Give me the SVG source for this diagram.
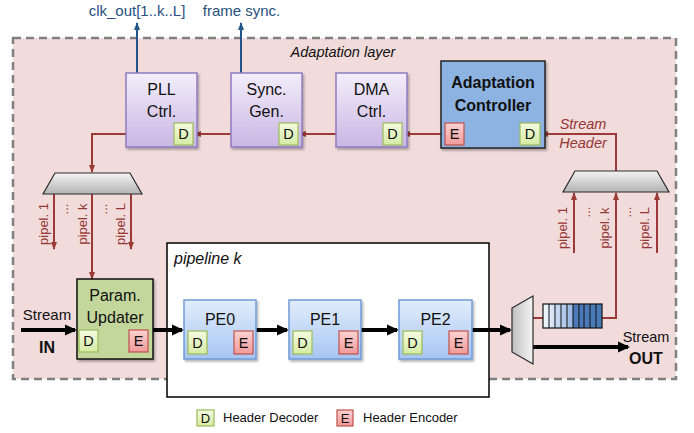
<svg xmlns="http://www.w3.org/2000/svg" width="694" height="433" viewBox="0 0 694 433">
<style>
text{font-family:"Liberation Sans",Arial,sans-serif;}
.lbl{font-size:16px;fill:#111;text-anchor:middle;}
.de{font-size:14.5px;fill:#111;text-anchor:middle;}
.red{stroke:#9b3a36;stroke-width:2;fill:none;}
.rtxt{font-size:13px;fill:#953735;text-anchor:middle;}
.blk{stroke:#000;stroke-width:4;fill:none;}
.blu{stroke:#24548a;stroke-width:2;fill:none;}
.btxt{font-size:15px;fill:#27507f;text-anchor:middle;}
.purple{fill:url(#gPurple);stroke:#8f7cc0;stroke-width:1.5;}
.pe{fill:url(#gBlue);stroke:#6f9bd6;stroke-width:1.5;}
.dbox{fill:url(#gGreen);stroke:#9bbb59;stroke-width:1.2;}
.ebox{fill:url(#gRed);stroke:#c0504d;stroke-width:1.2;}
.trap{fill:url(#gGray);stroke:#2a2a2a;stroke-width:1.2;}
</style>
<defs>
<linearGradient id="gPurple" x1="0" y1="0" x2="0" y2="1"><stop offset="0" stop-color="#f3eefa"/><stop offset="1" stop-color="#c9b6e4"/></linearGradient>
<linearGradient id="gBlue" x1="0" y1="0" x2="0" y2="1"><stop offset="0" stop-color="#e2edfc"/><stop offset="1" stop-color="#a6c5f1"/></linearGradient>
<linearGradient id="gGreen" x1="0" y1="0" x2="0" y2="1"><stop offset="0" stop-color="#f4fbe0"/><stop offset="1" stop-color="#d5eba3"/></linearGradient>
<linearGradient id="gRed" x1="0" y1="0" x2="0" y2="1"><stop offset="0" stop-color="#fbd3d2"/><stop offset="1" stop-color="#f09a98"/></linearGradient>
<linearGradient id="gGray" x1="0" y1="0" x2="0" y2="1"><stop offset="0" stop-color="#f4f4f4"/><stop offset="1" stop-color="#b3b3b3"/></linearGradient>
<linearGradient id="gGrayH" x1="0" y1="0" x2="1" y2="0"><stop offset="0" stop-color="#c0c0c0"/><stop offset="1" stop-color="#f4f4f4"/></linearGradient>
<linearGradient id="gCell" x1="0" y1="0" x2="1" y2="0"><stop offset="0" stop-color="#f4f8fe"/><stop offset="1" stop-color="#94b6e3"/></linearGradient>
<filter id="sh" x="-10%" y="-10%" width="130%" height="130%"><feDropShadow dx="1.5" dy="2" stdDeviation="1.2" flood-color="#000" flood-opacity="0.3"/></filter>
<marker id="aBlk" markerUnits="userSpaceOnUse" markerWidth="12" markerHeight="12" viewBox="0 0 12 12" refX="10" refY="6" orient="auto"><path d="M0,0.5 L12,6 L0,11.5 z" fill="#000"/></marker>
<marker id="aRed" markerUnits="userSpaceOnUse" markerWidth="8" markerHeight="8" viewBox="0 0 8 8" refX="7" refY="4" orient="auto"><path d="M0,1 L8,4 L0,7 z" fill="#9b3a36"/></marker>
<marker id="aBlu" markerUnits="userSpaceOnUse" markerWidth="8" markerHeight="8" viewBox="0 0 8 8" refX="7" refY="4" orient="auto"><path d="M0,1 L8,4 L0,7 z" fill="#24548a"/></marker>
</defs>

<g id="adaptation-layer">
<rect x="13" y="38" width="663" height="341" fill="#f1dbdb" stroke="#808080" stroke-width="2.5" stroke-dasharray="8,5"/>
<text x="343" y="57" style="font-size:14.5px;font-style:italic;fill:#111;text-anchor:middle">Adaptation layer</text>
</g>

<g id="pipeline-k">
<rect x="167" y="243" width="322" height="154" fill="#fff" stroke="#000" stroke-width="1.5"/>
<text x="174" y="264" style="font-size:16px;font-style:italic;fill:#111">pipeline k</text>
</g>

<g id="connectors">
<line class="blu" x1="137" y1="73" x2="137" y2="23" marker-end="url(#aBlu)"/>
<line class="blu" x1="241" y1="73" x2="241" y2="23" marker-end="url(#aBlu)"/>
<polyline class="red" points="616,171 616,134 541,134" marker-end="url(#aRed)"/>
<line class="red" x1="520" y1="134" x2="465" y2="134" marker-end="url(#aRed)"/>
<line class="red" x1="445" y1="134" x2="403" y2="134" marker-end="url(#aRed)"/>
<line class="red" x1="383" y1="134" x2="299" y2="134" marker-end="url(#aRed)"/>
<line class="red" x1="279" y1="134" x2="194" y2="134" marker-end="url(#aRed)"/>
<polyline class="red" points="174,134 92,134 92,172" marker-end="url(#aRed)"/>
<line class="red" x1="54" y1="194" x2="54" y2="249" marker-end="url(#aRed)"/>
<line class="red" x1="92" y1="194" x2="92" y2="279" marker-end="url(#aRed)"/>
<line class="red" x1="131" y1="194" x2="131" y2="249" marker-end="url(#aRed)"/>
<line class="red" x1="574" y1="253" x2="574" y2="193" marker-end="url(#aRed)"/>
<polyline class="red" points="602,318 616,318 616,193" marker-end="url(#aRed)"/>
<line class="red" x1="657" y1="253" x2="657" y2="193" marker-end="url(#aRed)"/>
<line class="red" x1="533" y1="318" x2="543" y2="318"/>
<line class="blk" x1="21" y1="330" x2="75" y2="330" marker-end="url(#aBlk)"/>
<line class="blk" x1="153" y1="330" x2="182" y2="330" marker-end="url(#aBlk)"/>
<line class="blk" x1="256" y1="330" x2="287" y2="330" marker-end="url(#aBlk)"/>
<line class="blk" x1="361" y1="330" x2="397" y2="330" marker-end="url(#aBlk)"/>
<line class="blk" x1="472" y1="330" x2="510" y2="330" marker-end="url(#aBlk)"/>
<line class="blk" x1="533" y1="347" x2="628" y2="347" marker-end="url(#aBlk)"/>
</g>

<g id="labels">
<text class="btxt" x="137" y="16">clk_out[1..k..L]</text>
<text class="btxt" x="241.5" y="16">frame sync.</text>
<text x="583" y="129" style="font-size:14.5px;font-style:italic;fill:#953735;text-anchor:middle">Stream</text>
<text x="583" y="148" style="font-size:14.5px;font-style:italic;fill:#953735;text-anchor:middle">Header</text>
<text class="rtxt" transform="translate(48,224) rotate(-90)">pipel. 1</text>
<text class="rtxt" transform="translate(68,209) rotate(-90)">...</text>
<text class="rtxt" transform="translate(86.5,224) rotate(-90)">pipel. k</text>
<text class="rtxt" transform="translate(107,209) rotate(-90)">...</text>
<text class="rtxt" transform="translate(125,224) rotate(-90)">pipel. L</text>
<text class="rtxt" transform="translate(567,228) rotate(-90)">pipel. 1</text>
<text class="rtxt" transform="translate(590,212) rotate(-90)">...</text>
<text class="rtxt" transform="translate(609,228) rotate(-90)">pipel. k</text>
<text class="rtxt" transform="translate(631,212) rotate(-90)">...</text>
<text class="rtxt" transform="translate(649,228) rotate(-90)">pipel. L</text>
<text x="47" y="320" style="font-size:15px;fill:#111;text-anchor:middle">Stream</text>
<text x="47" y="353" style="font-size:16px;font-weight:bold;fill:#111;text-anchor:middle">IN</text>
<text x="646" y="342" style="font-size:14.5px;fill:#111;text-anchor:middle">Stream</text>
<text x="646" y="364" style="font-size:16px;font-weight:bold;fill:#111;text-anchor:middle">OUT</text>
</g>

<g id="pll-ctrl">
<rect class="purple" x="126" y="73" width="71" height="74" filter="url(#sh)"/>
<text class="lbl" x="161.5" y="95">PLL</text>
<text class="lbl" x="161.5" y="117">Ctrl.</text>
<rect class="dbox" x="174" y="123" width="19" height="22"/>
<text class="de" x="183.5" y="139">D</text>
</g>

<g id="sync-gen">
<rect class="purple" x="231" y="73" width="71" height="74" filter="url(#sh)"/>
<text class="lbl" x="266.5" y="95">Sync.</text>
<text class="lbl" x="266.5" y="117">Gen.</text>
<rect class="dbox" x="279" y="123" width="19" height="22"/>
<text class="de" x="288.5" y="139">D</text>
</g>

<g id="dma-ctrl">
<rect class="purple" x="336" y="73" width="71" height="74" filter="url(#sh)"/>
<text class="lbl" x="371.5" y="95">DMA</text>
<text class="lbl" x="371.5" y="117">Ctrl.</text>
<rect class="dbox" x="383" y="123" width="19" height="22"/>
<text class="de" x="392.5" y="139">D</text>
</g>

<g id="adaptation-controller">
<rect x="441" y="61" width="104" height="87" fill="#8db3e2" stroke="#222" stroke-width="1.5" filter="url(#sh)"/>
<text x="493" y="88" style="font-size:16px;font-weight:bold;fill:#111;text-anchor:middle">Adaptation</text>
<text x="493" y="111" style="font-size:16px;font-weight:bold;fill:#111;text-anchor:middle">Controller</text>
<rect class="ebox" x="445" y="123" width="19" height="22"/>
<text class="de" x="454.5" y="139">E</text>
<rect class="dbox" x="520" y="123" width="20" height="22"/>
<text class="de" x="530" y="139">D</text>
</g>

<g id="demux-left">
<polygon class="trap" points="55,173 130,173 142,194 43,194"/>
</g>

<g id="demux-right">
<polygon class="trap" points="575,171 657,171 669,192 563,192"/>
</g>

<g id="param-updater">
<rect x="77" y="279" width="76" height="80" fill="#c3d69b" stroke="#111" stroke-width="1.5" filter="url(#sh)"/>
<text class="lbl" x="115" y="301">Param.</text>
<text class="lbl" x="115" y="323">Updater</text>
<rect class="dbox" x="79" y="330" width="19" height="22"/>
<text class="de" x="88.5" y="346">D</text>
<rect class="ebox" x="129" y="330" width="19" height="22"/>
<text class="de" x="138.5" y="346">E</text>
</g>

<g id="pe0">
<rect class="pe" x="184" y="300" width="72" height="59" filter="url(#sh)"/>
<text class="lbl" x="220" y="325">PE0</text>
<rect class="dbox" x="188" y="331" width="19" height="23"/>
<text class="de" x="197.5" y="348">D</text>
<rect class="ebox" x="234" y="331" width="19" height="23"/>
<text class="de" x="243.5" y="348">E</text>
</g>

<g id="pe1">
<rect class="pe" x="289" y="300" width="72" height="59" filter="url(#sh)"/>
<text class="lbl" x="325" y="325">PE1</text>
<rect class="dbox" x="293" y="331" width="19" height="23"/>
<text class="de" x="302.5" y="348">D</text>
<rect class="ebox" x="339" y="331" width="19" height="23"/>
<text class="de" x="348.5" y="348">E</text>
</g>

<g id="pe2">
<rect class="pe" x="399" y="300" width="73" height="59" filter="url(#sh)"/>
<text class="lbl" x="435.5" y="325">PE2</text>
<rect class="dbox" x="403" y="331" width="19" height="23"/>
<text class="de" x="412.5" y="348">D</text>
<rect class="ebox" x="449" y="331" width="19" height="23"/>
<text class="de" x="458.5" y="348">E</text>
</g>

<g id="mux-out">
<polygon points="512,308 533,296 533,364 512,352" fill="url(#gGrayH)" stroke="#2a2a2a" stroke-width="1.2"/>
</g>

<g id="fifo">
<rect x="543" y="304" width="30" height="24" fill="url(#gCell)"/>
<rect x="573" y="304" width="29" height="24" fill="#4a7ab8"/>
<g stroke="#111" stroke-width="1">
<line x1="549" y1="304" x2="549" y2="328"/><line x1="555" y1="304" x2="555" y2="328"/><line x1="561" y1="304" x2="561" y2="328"/><line x1="567" y1="304" x2="567" y2="328"/><line x1="573" y1="304" x2="573" y2="328"/><line x1="579" y1="304" x2="579" y2="328"/><line x1="584" y1="304" x2="584" y2="328"/><line x1="590" y1="304" x2="590" y2="328"/><line x1="596" y1="304" x2="596" y2="328"/>
</g>
<rect x="543" y="304" width="59" height="24" fill="none" stroke="#111" stroke-width="1.2"/>
</g>

<g id="legend">
<rect class="dbox" x="197" y="410" width="17" height="16"/>
<text x="205.5" y="423" style="font-size:13px;fill:#111;text-anchor:middle">D</text>
<text x="223" y="422" style="font-size:13px;fill:#111">Header Decoder</text>
<rect class="ebox" x="337" y="410" width="16" height="16"/>
<text x="345" y="423" style="font-size:13px;fill:#111;text-anchor:middle">E</text>
<text x="363" y="422" style="font-size:13px;fill:#111">Header Encoder</text>
</g>
</svg>
